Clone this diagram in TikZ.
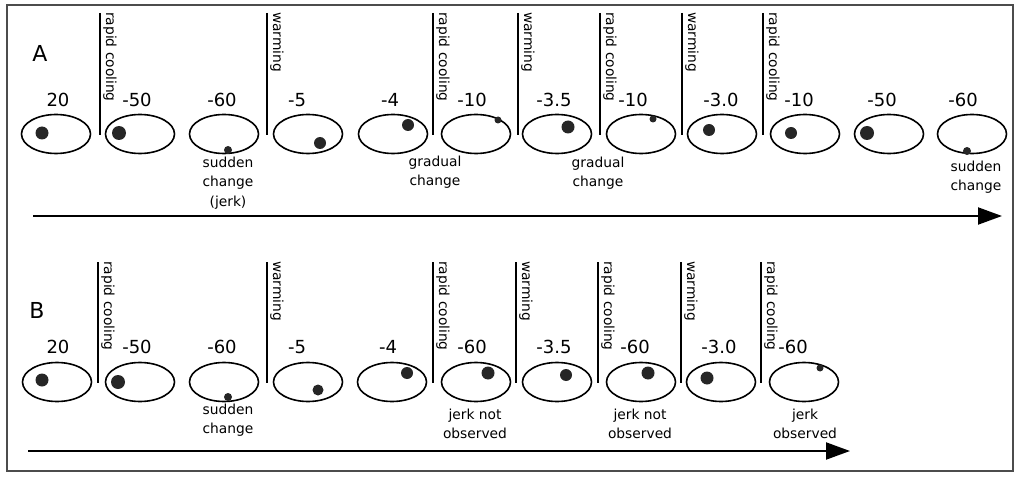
\documentclass[tikz,border=0pt]{standalone}
\usepackage{fontspec}
\setmainfont{DejaVu Sans}
\usetikzlibrary{shapes.geometric,arrows.meta}
\begin{document}
\begin{tikzpicture}[x=1pt,y=-1pt,
 cell/.style={draw,ellipse,line width=1.6pt,minimum width=69pt,minimum height=39pt,inner sep=0pt},
 temp/.style={font=\fontsize{18}{20}\selectfont,inner sep=0pt},
 note/.style={font=\fontsize{13.8}{19.5}\selectfont,align=center,inner sep=0pt},
 vtext/.style={font=\fontsize{13.8}{15}\selectfont,rotate=-90,anchor=south west,inner sep=0pt},
 bar/.style={line width=1.8pt},
 ball/.style={fill=black!85},
 panel/.style={font=\fontsize{22}{24}\selectfont,inner sep=0pt},
 axis/.style={line width=2pt,-{Triangle[length=24pt,width=17pt]}}]
\useasboundingbox (0,0) rectangle (1019,481);
\draw[line width=1.5pt,black!70] (7,5) rectangle (1013,471);

% ---------------- Panel A ----------------
\node[panel] (pa) at (40,53) {A};
\foreach \i/\x in {1/56,2/140,3/224,4/308,5/393,6/476,7/557,8/641,9/722,10/805,11/889,12/972}
  \node[cell] (a\i) at (\x,134) {};
\foreach \i/\x/\t in {1/58/20,2/137/-50,3/222/-60,4/297/-5,5/390/-4,6/472/-10,7/554/-3.5,8/633/-10,9/721/-3.0,10/799/-10,11/882/-50,12/963/-60}
  \node[temp] (ta\i) at (\x,100) {\t};
% balls
\fill[ball] (42,133) circle [radius=6.5pt];
\fill[ball] (119,133) circle [radius=7pt];
\fill[ball] (228,150) circle [radius=4pt];
\fill[ball] (320,143) circle [radius=6pt];
\fill[ball] (408,125) circle [radius=6pt];
\fill[ball] (498,120) circle [radius=3.5pt];
\fill[ball] (568,127) circle [radius=6.5pt];
\fill[ball] (653,119) circle [radius=3.5pt];
\fill[ball] (709,130) circle [radius=6pt];
\fill[ball] (791,133) circle [radius=6pt];
\fill[ball] (867,133) circle [radius=7pt];
\fill[ball] (967,151) circle [radius=4pt];
% separators
\foreach \x/\t in {100/rapid cooling,267/warming,433/rapid cooling,518/warming,600/rapid cooling,682/warming,763/rapid cooling}{
  \draw[bar] (\x,13) -- (\x,135);
  \node[vtext] at (\x+3,12) {\t};
}
\node[note] (na1) at (228,183) {sudden\\change\\(jerk)};
\node[note] (na2) at (435,172) {gradual\\change};
\node[note] (na3) at (598,173) {gradual\\change};
\node[note] (na4) at (976,177) {sudden\\change};
\coordinate (as) at (33,216);
\coordinate (ae) at (1002,216);
\draw[axis] (as) -- (ae);

% ---------------- Panel B ----------------
\node[panel] (pb) at (37,310) {B};
\foreach \i/\x in {1/57,2/140,3/224,4/308,5/392,6/476,7/557,8/641,9/721,10/804}
  \node[cell] (b\i) at (\x,382) {};
\foreach \i/\x/\t in {1/58/20,2/137/-50,3/222/-60,4/297/-5,5/388/-4,6/472/-60,7/554/-3.5,8/635/-60,9/719/-3.0,10/793/-60}
  \node[temp] (tb\i) at (\x,347) {\t};
\fill[ball] (42,380) circle [radius=6.5pt];
\fill[ball] (118,382) circle [radius=7pt];
\fill[ball] (228,397) circle [radius=4pt];
\fill[ball] (318,390) circle [radius=5.5pt];
\fill[ball] (407,373) circle [radius=6pt];
\fill[ball] (488,373) circle [radius=6.5pt];
\fill[ball] (566,375) circle [radius=6pt];
\fill[ball] (648,373) circle [radius=6.5pt];
\fill[ball] (707,378) circle [radius=6.5pt];
\fill[ball] (820,368) circle [radius=3.5pt];
\foreach \x/\t in {98/rapid cooling,267/warming,433/rapid cooling,516/warming,598/rapid cooling,681/warming,761/rapid cooling}{
  \draw[bar] (\x,262) -- (\x,383);
  \node[vtext] at (\x+3,261) {\t};
}
\node[note] (nb1) at (228,420) {sudden\\change};
\node[note] (nb2) at (475,424) {jerk not\\observed};
\node[note] (nb3) at (640,424) {jerk not\\observed};
\node[note] (nb4) at (805,424) {jerk\\observed};
\coordinate (bs) at (28,451);
\coordinate (be) at (850,451);
\draw[axis] (bs) -- (be);
\end{tikzpicture}
\end{document}
